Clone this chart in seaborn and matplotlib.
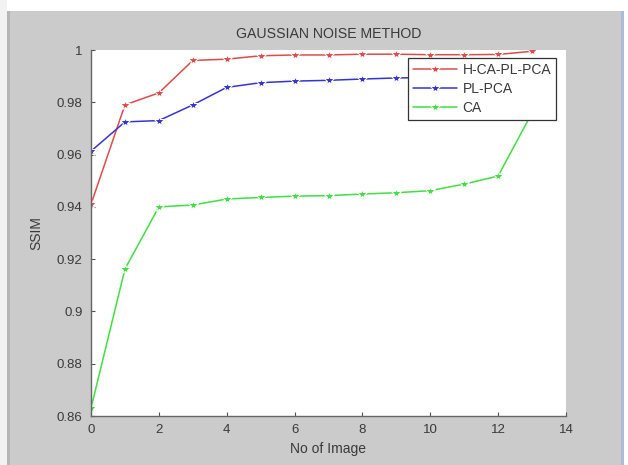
import numpy as np
import pandas as pd
import seaborn as sns
import matplotlib
matplotlib.use("Agg")
import matplotlib.pyplot as plt
from matplotlib.patches import Rectangle

# ---- data ----
image_no = [0, 1, 2, 3, 4, 5, 6, 7, 8, 9, 10, 11, 12, 13]
h_ca_pl_pca = [0.941, 0.979, 0.9836, 0.9960, 0.9965, 0.9978, 0.9981, 0.9981,
               0.9984, 0.9984, 0.9982, 0.9982, 0.9983, 0.9995]
pl_pca = [0.9613, 0.9725, 0.9730, 0.9790, 0.9857, 0.9875, 0.9881, 0.9884,
          0.9889, 0.9893, 0.9895, 0.9898, 0.9900, 0.9903]
ca = [0.8630, 0.9162, 0.9400, 0.9407, 0.9430, 0.9436, 0.9441, 0.9443,
      0.9449, 0.9454, 0.9462, 0.9487, 0.9518, 0.9760]
series_names = ["H-CA-PL-PCA", "PL-PCA", "CA"]
series_colors = ["#e24a4a", "#3434d6", "#3fe03f"]
x_ticks = [0, 2, 4, 6, 8, 10, 12, 14]
y_ticks = [0.86, 0.88, 0.9, 0.92, 0.94, 0.96, 0.98, 1.0]
y_ticklabels = ["0.86", "0.88", "0.9", "0.92", "0.94", "0.96", "0.98", "1"]

df = pd.concat([
    pd.DataFrame({"No of Image": image_no, "SSIM": vals, "Method": name})
    for name, vals in zip(series_names, [h_ca_pl_pca, pl_pca, ca])
], ignore_index=True)

sns.set_style("white")
plt.rcParams["font.family"] = ["Liberation Sans", "DejaVu Sans"]

bg = "#cbcbcb"
txtc = "#3a3a3a"
fig = plt.figure(figsize=(6.28, 4.65), dpi=100, facecolor=bg)
# screenshot framing: white strip on top / left / right edges
fig.patches.append(Rectangle((0, 1 - 11 / 465), 1, 11 / 465, transform=fig.transFigure,
                             facecolor="white", edgecolor="none", zorder=0))
fig.patches.append(Rectangle((0, 0), 7 / 628, 1, transform=fig.transFigure,
                             facecolor="#f2f2f2", edgecolor="none", zorder=0))
fig.patches.append(Rectangle((7 / 628, 0), 3 / 628, 1 - 11 / 465, transform=fig.transFigure,
                             facecolor="#b5b5b5", edgecolor="none", zorder=0))
fig.patches.append(Rectangle((621 / 628, 0), 3 / 628, 1 - 11 / 465, transform=fig.transFigure,
                             facecolor="#a9bcd8", edgecolor="none", zorder=0))
fig.patches.append(Rectangle((624 / 628, 0), 4 / 628, 1, transform=fig.transFigure,
                             facecolor="white", edgecolor="none", zorder=0))

ax = fig.add_axes([91 / 628, 1 - 416 / 465, (566 - 91) / 628, (416 - 50) / 465])
ax.set_facecolor("white")

sns.lineplot(data=df, x="No of Image", y="SSIM", hue="Method",
             hue_order=series_names, palette=series_colors,
             style="Method", markers=["*", "*", "*"], dashes=False,
             markersize=7, linewidth=1.1, ax=ax, legend=True)

ax.set_xlim(0, 14)
ax.set_ylim(0.86, 1.0)
ax.set_xticks(x_ticks)
ax.set_xticklabels([str(t) for t in x_ticks])
ax.set_yticks(y_ticks)
ax.set_yticklabels(y_ticklabels)
ax.tick_params(axis="both", direction="in", length=3, width=0.8, color="#555555",
               labelsize=9.5, labelcolor=txtc, left=True, bottom=True)
ax.tick_params(axis="y", pad=6)
ax.tick_params(axis="x", pad=6)
for side in ["top", "right"]:
    ax.spines[side].set_visible(False)
for side in ["left", "bottom"]:
    ax.spines[side].set_color("#666666")
    ax.spines[side].set_linewidth(1.0)

ax.set_xlabel("No of Image", fontsize=10, color=txtc, labelpad=4)
ax.set_ylabel("SSIM", fontsize=10, color=txtc, labelpad=10)
ax.set_title("GAUSSIAN NOISE METHOD", fontsize=10.2, color=txtc, pad=9)

leg = ax.legend(loc="upper right", bbox_to_anchor=(0.985, 0.985), frameon=True,
                fancybox=False, framealpha=1, edgecolor="#333333",
                fontsize=10, handlelength=3.2, borderpad=0.35,
                labelspacing=0.35, handletextpad=0.4, borderaxespad=0.2)
leg.get_frame().set_linewidth(0.9)
for txt in leg.get_texts():
    txt.set_color(txtc)

fig.savefig("out.png", dpi=100, facecolor=fig.get_facecolor())
